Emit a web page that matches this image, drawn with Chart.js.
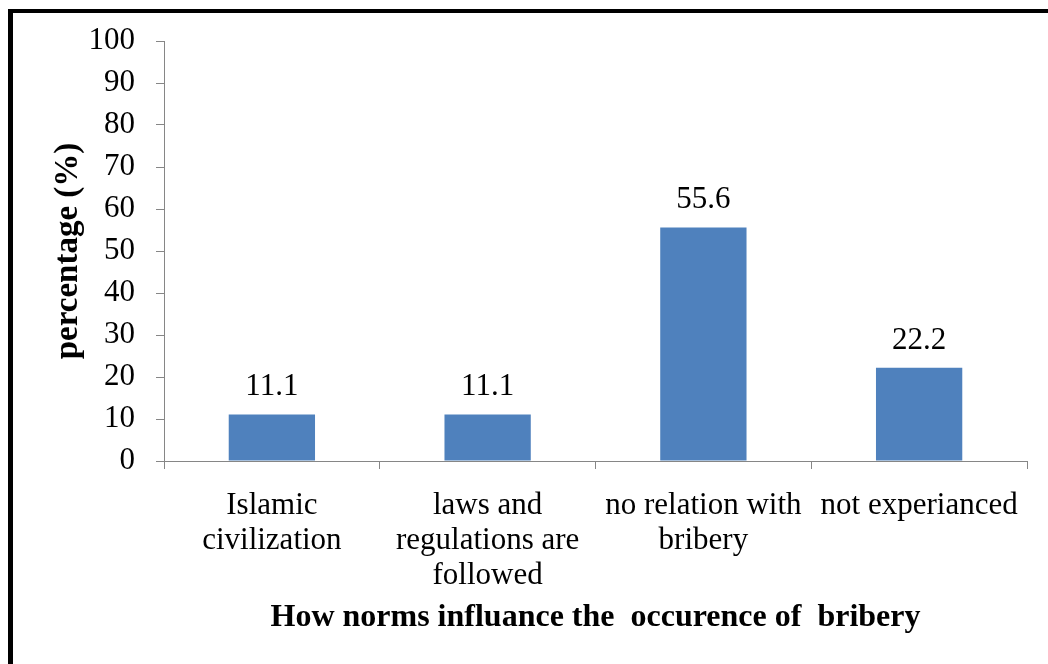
<!DOCTYPE html>
<html>
<head>
<meta charset="utf-8">
<title>How norms influance the occurence of bribery</title>
<script src="https://cdn.jsdelivr.net/npm/chart.js@4/dist/chart.umd.min.js"></script>
<style>
  html, body { margin: 0; padding: 0; background: #fff; overflow: hidden; }
  #wrap { position: relative; width: 1048px; height: 664px; }
  /* frame around the figure, only left and top edges are visible */
  #frame {
    position: absolute; left: 8px; top: 9px; width: 1200px; height: 800px;
    border-left: 5px solid #000; border-top: 4px solid #000;
  }
  #chart { position: absolute; left: 0; top: 0; }
</style>
</head>
<body>
<div id="wrap">
  <div id="frame"></div>
  <canvas id="chart" width="1048" height="664"></canvas>
</div>
<script>
const categories = [
  ['Islamic', 'civilization'],
  ['laws and', 'regulations are', 'followed'],
  ['no relation with', 'bribery'],
  'not experianced'
];
const percentages = [11.1, 11.1, 55.6, 22.2];
const yTicks = [0, 10, 20, 30, 40, 50, 60, 70, 80, 90, 100];

const serif = '"Liberation Serif", "Times New Roman", serif';
const axisGrey = '#868686';

// writes the value above each bar
const valueLabels = {
  id: 'valueLabels',
  afterDatasetsDraw(chart) {
    const ctx = chart.ctx;
    const meta = chart.getDatasetMeta(0);
    ctx.save();
    ctx.font = '31px ' + serif;
    ctx.fillStyle = '#000';
    ctx.textAlign = 'center';
    ctx.textBaseline = 'alphabetic';
    meta.data.forEach((bar, i) => {
      ctx.fillText(String(percentages[i]), bar.x, bar.y - 19);
    });
    ctx.restore();
  }
};

new Chart(document.getElementById('chart'), {
  type: 'bar',
  data: {
    labels: categories,
    datasets: [{
      data: percentages,
      backgroundColor: '#4F81BD',
      borderWidth: 0,
      categoryPercentage: 1,
      barPercentage: 0.4
    }]
  },
  options: {
    responsive: false,
    animation: false,
    devicePixelRatio: 1,
    layout: { padding: { left: 0, top: 41, right: 21, bottom: 0 } },
    plugins: {
      legend: { display: false },
      tooltip: { enabled: false }
    },
    scales: {
      x: {
        afterFit(scale) { scale.height = 203; },
        border: { color: axisGrey, width: 1 },
        grid: { drawOnChartArea: false, drawTicks: true, tickLength: 8, color: axisGrey },
        ticks: {
          color: '#000',
          font: { family: serif, size: 31, lineHeight: 1.13 },
          padding: 19,
          maxRotation: 0,
          autoSkip: false
        },
        title: {
          display: true,
          text: 'How norms influance the  occurence of  bribery',
          color: '#000',
          font: { family: serif, size: 32, weight: 'bold' },
          padding: { top: 0, bottom: 27 }
        }
      },
      y: {
        min: 0,
        max: 100,
        afterFit(scale) { scale.width = 164; },
        afterBuildTicks(scale) { scale.ticks = yTicks.map(v => ({ value: v })); },
        border: { color: axisGrey, width: 1 },
        grid: { drawOnChartArea: false, drawTicks: true, tickLength: 8, color: axisGrey },
        ticks: {
          color: '#000',
          font: { family: serif, size: 31 },
          padding: 21,
          autoSkip: false
        },
        title: {
          display: true,
          text: 'percentage (%)',
          color: '#000',
          font: { family: serif, size: 33, weight: 'bold' },
          padding: { top: 49, bottom: 0 }
        }
      }
    }
  },
  plugins: [valueLabels]
});
</script>
</body>
</html>
